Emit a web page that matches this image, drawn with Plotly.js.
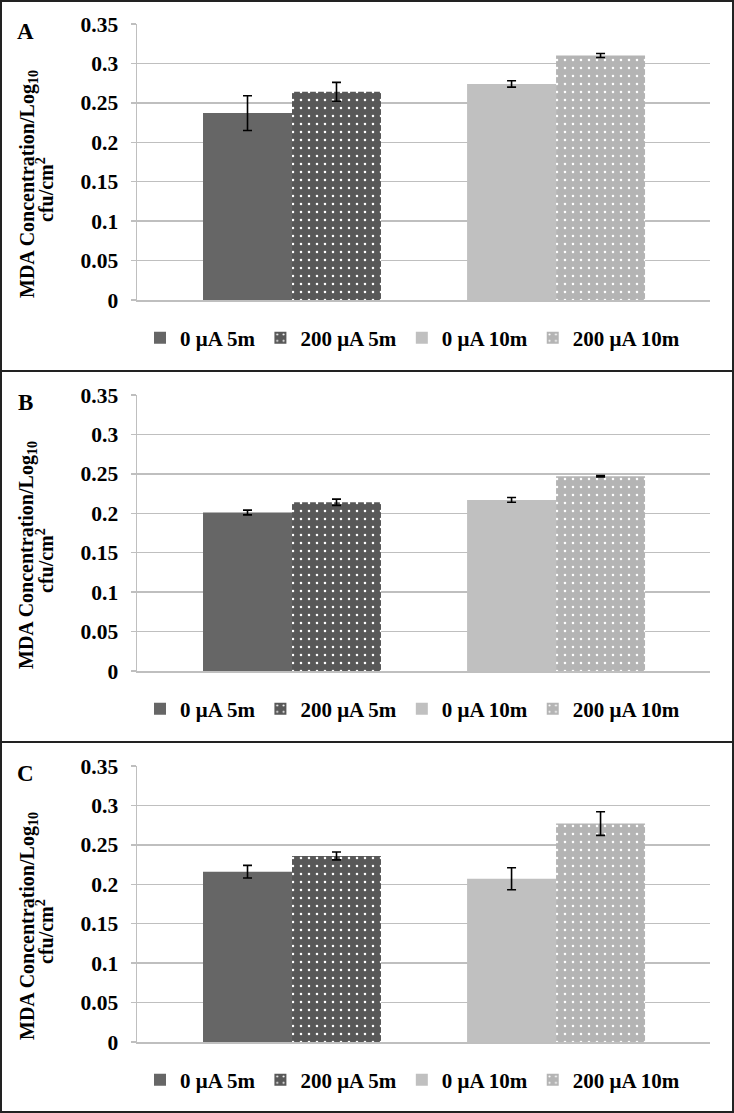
<!DOCTYPE html>
<html><head><meta charset="utf-8">
<script src="https://cdn.plot.ly/plotly-3.0.1.min.js"></script>
<style>html,body{margin:0;padding:0;background:#fff}#chart{width:734px;height:1113px}</style>
</head><body><div id="chart"></div>
<script>
// ---- data ----
const groups = ['5m', '10m'];
const seriesNames = ['0 μA 5m', '200 μA 5m', '0 μA 10m', '200 μA 10m'];
const seriesGroup = ['5m', '5m', '10m', '10m'];
const panelLabels = ['A', 'B', 'C'];
const valuesA = [0.237, 0.264, 0.274, 0.310];
const errorsA = [0.022, 0.012, 0.004, 0.0025];
const valuesB = [0.201, 0.214, 0.217, 0.247];
const errorsB = [0.003, 0.004, 0.003, 0.001];
const valuesC = [0.216, 0.236, 0.207, 0.277];
const errorsC = [0.008, 0.005, 0.014, 0.015];
const yTicks = [0, 0.05, 0.1, 0.15, 0.2, 0.25, 0.3, 0.35];
const yTickText = ['0', '0.05', '0.1', '0.15', '0.2', '0.25', '0.3', '0.35'];
const yTitleLine1 = 'MDA Concentration/Log<sub>10</sub>';
const yTitleLine2 = 'cfu/cm<sup>2</sup>';

// ---- styles ----
const W = 734, H = 1113, PANEL_H = 371;
const FONT = 'Liberation Serif, Times New Roman, serif';
const offsetGroups = ['a', 'b', 'a', 'b'];
const barColors = ['#666666', '#585858', '#c0c0c0', '#b4b4b4'];
const patterned = [false, true, false, true];
const GRID = '#bfbfbf';

const panels = [
  {vals: valuesA, errs: errorsA},
  {vals: valuesB, errs: errorsB},
  {vals: valuesC, errs: errorsC}
];

const px = p => p / W;
const py = p => 1 - p / H;

const traces = [];
const layout = {
  width: W, height: H,
  margin: {l: 0, r: 0, t: 0, b: 0},
  paper_bgcolor: '#fff', plot_bgcolor: '#fff',
  barmode: 'group', bargap: 0.326, bargroupgap: 0,
  font: {family: FONT, size: 21, color: '#000'},
  shapes: [], annotations: [], showlegend: true
};

panels.forEach((p, i) => {
  const sfx = i === 0 ? '' : String(i + 1);
  const top = i * PANEL_H;
  const legendName = 'legend' + sfx;
  for (let s = 0; s < seriesNames.length; s++) {
    const marker = {color: barColors[s], line: {width: 0}};
    if (patterned[s]) {
      marker.pattern = {shape: '.', fgcolor: '#ffffff', bgcolor: barColors[s], size: 8, solidity: 0.08, fillmode: 'replace'};
    }
    traces.push({
      type: 'bar',
      name: seriesNames[s],
      x: [seriesGroup[s]],
      y: [p.vals[s]],
      error_y: {type: 'data', array: [p.errs[s]], visible: true, color: '#000', thickness: 1.6, width: 4.5},
      marker: marker,
      offsetgroup: offsetGroups[s],
      xaxis: 'x' + sfx, yaxis: 'y' + sfx,
      legend: legendName,
      hoverinfo: 'skip'
    });
  }
  layout['xaxis' + sfx] = {
    type: 'category', categoryorder: 'array', categoryarray: groups,
    domain: [px(137), px(710)], range: [-0.587, 1.583],
    anchor: 'y' + sfx, showticklabels: false, ticks: '',
    showgrid: false, zeroline: false,
    showline: true, linecolor: GRID, linewidth: 1.5, fixedrange: true
  };
  layout['yaxis' + sfx] = {
    domain: [py(top + 300), py(top + 24)], range: [0, 0.35],
    anchor: 'x' + sfx, tickvals: yTicks, ticktext: yTickText,
    tickfont: {family: FONT, size: 21.5, color: '#000', weight: 'bold'},
    ticks: 'outside', ticklen: 5, tickcolor: GRID, tickwidth: 1.5,
    ticklabelstandoff: 8,
    showgrid: true, gridcolor: GRID, gridwidth: 1.5,
    zeroline: false, showline: true, linecolor: GRID, linewidth: 1.5, fixedrange: true
  };
  layout[legendName] = {
    orientation: 'h', x: px(140), xanchor: 'left', y: py(top + 338), yanchor: 'middle',
    font: {family: FONT, size: 21, color: '#000', weight: 'bold'},
    bgcolor: 'rgba(0,0,0,0)', itemclick: false, itemdoubleclick: false,
    traceorder: 'normal', itemwidth: 30
  };
  // panel label
  layout.annotations.push({
    xref: 'paper', yref: 'paper', x: px(25), y: py(top + 31),
    xanchor: 'center', yanchor: 'middle', showarrow: false,
    text: panelLabels[i], font: {family: FONT, size: 23, color: '#000', weight: 'bold'}
  });
  // y-axis title (two lines)
  layout.annotations.push({
    xref: 'paper', yref: 'paper', x: px(28), y: py(top + 184),
    xanchor: 'center', yanchor: 'middle', showarrow: false, textangle: -90,
    text: yTitleLine1, font: {family: FONT, size: 20, color: '#000', weight: 'bold'}
  });
  layout.annotations.push({
    xref: 'paper', yref: 'paper', x: px(45), y: py(top + 190),
    xanchor: 'center', yanchor: 'middle', showarrow: false, textangle: -90,
    text: yTitleLine2, font: {family: FONT, size: 20, color: '#000', weight: 'bold'}
  });
  // panel separator line
  if (i > 0) {
    layout.shapes.push({type: 'line', xref: 'paper', yref: 'paper', x0: 0, x1: 1,
      y0: py(top), y1: py(top), line: {color: '#222', width: 2}});
  }
});
layout.shapes.push({type: 'rect', xref: 'paper', yref: 'paper', x0: px(1), x1: px(733), y0: py(1112), y1: py(1),
  line: {color: '#222', width: 2}});

Plotly.newPlot('chart', traces, layout, {displayModeBar: false, staticPlot: true});
</script>
</body></html>
